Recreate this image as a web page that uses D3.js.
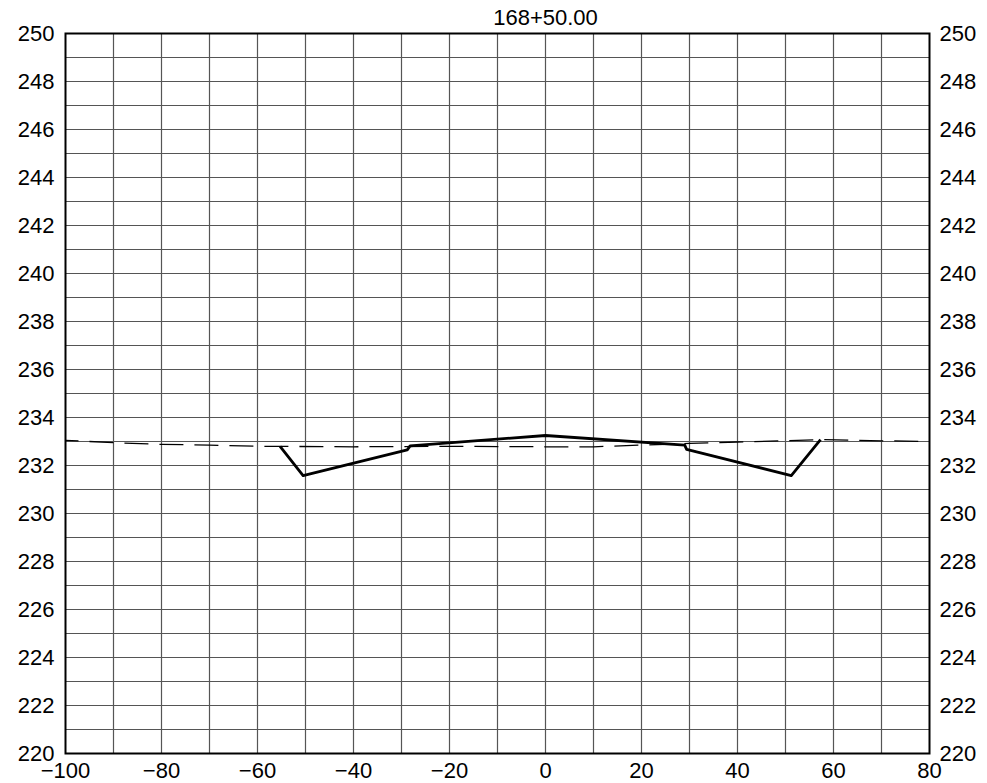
<!DOCTYPE html>
<html>
<head>
<meta charset="utf-8">
<script src="https://cdn.jsdelivr.net/npm/d3@7"></script>
<style>
  body { margin: 0; background: #fff; }
  svg text { font-family: "Liberation Sans", Arial, sans-serif; font-size: 22px; fill: #000; }
</style>
</head>
<body>
<svg id="chart" width="987" height="783"></svg>
<script>
var title = "168+50.00";
var xTicks = [-100, -80, -60, -40, -20, 0, 20, 40, 60, 80];
var yTicks = [220, 222, 224, 226, 228, 230, 232, 234, 236, 238, 240, 242, 244, 246, 248, 250];
// existing ground (dashed)
var groundX = [-100, -90, -80, -70, -60, -40, -20, 0, 10, 20, 30, 40, 50, 57, 70, 80];
var groundY = [233.05, 232.95, 232.88, 232.85, 232.8, 232.78, 232.8, 232.78, 232.78, 232.85, 232.92, 232.98, 233.03, 233.08, 233.03, 233.0];
// design section (solid)
var designX = [-55.3, -50.5, -28.8, -28.2, 0, 29.0, 29.4, 51.2, 57.3];
var designY = [232.8, 231.58, 232.65, 232.82, 233.25, 232.85, 232.67, 231.58, 233.08];

var margin = { top: 33.5, right: 57.5, bottom: 29.5, left: 65.5 },
    width = 987 - margin.left - margin.right,
    height = 783 - margin.top - margin.bottom;

var svg = d3.select("#chart");
var g = svg.append("g").attr("transform", "translate(" + margin.left + "," + margin.top + ")");

var x = d3.scaleLinear().domain([-100, 80]).range([0, width]);
var y = d3.scaleLinear().domain([220, 250]).range([height, 0]);

//grid, every 10 in x and every 1 in y
g.append("g").selectAll("line")
    .data(d3.range(-90, 80, 10))
    .enter().append("line")
    .attr("x1", function(d) { return x(d); })
    .attr("x2", function(d) { return x(d); })
    .attr("y1", 0).attr("y2", height)
    .style("stroke", "#555").style("stroke-width", 1.2);
g.append("g").selectAll("line")
    .data(d3.range(221, 250, 1))
    .enter().append("line")
    .attr("y1", function(d) { return y(d); })
    .attr("y2", function(d) { return y(d); })
    .attr("x1", 0).attr("x2", width)
    .style("stroke", "#555").style("stroke-width", 1.2);

//frame
g.append("rect")
    .attr("x", 0).attr("y", 0)
    .attr("width", width).attr("height", height)
    .style("fill", "none").style("stroke", "#000").style("stroke-width", 2);

//tick labels
g.append("g").selectAll("text")
    .data(yTicks)
    .enter().append("text")
    .attr("x", -11)
    .attr("y", function(d) { return y(d); })
    .attr("dy", "0.34em")
    .attr("text-anchor", "end")
    .text(function(d) { return d; });
g.append("g").selectAll("text")
    .data(yTicks)
    .enter().append("text")
    .attr("x", width + 10)
    .attr("y", function(d) { return y(d); })
    .attr("dy", "0.34em")
    .attr("text-anchor", "start")
    .text(function(d) { return d; });
g.append("g").selectAll("text")
    .data(xTicks)
    .enter().append("text")
    .attr("x", function(d) { return x(d); })
    .attr("y", height + 24)
    .attr("text-anchor", "middle")
    .text(function(d) { return d < 0 ? "\u2212" + Math.abs(d) : d; });

//title centred on the centreline
g.append("text")
    .attr("x", x(0))
    .attr("y", -9)
    .attr("text-anchor", "middle")
    .text(title);

var line = d3.line()
    .x(function(d) { return x(d[0]); })
    .y(function(d) { return y(d[1]); });

g.append("path")
    .attr("d", line(d3.zip(groundX, groundY)))
    .style("fill", "none")
    .style("stroke", "#000")
    .style("stroke-width", 1.3)
    .style("stroke-dasharray", "24,11")
    .style("stroke-dashoffset", 11);

g.append("path")
    .attr("d", line(d3.zip(designX, designY)))
    .style("fill", "none")
    .style("stroke", "#000")
    .style("stroke-width", 2.8)
    .style("stroke-linejoin", "round");
</script>
</body>
</html>
